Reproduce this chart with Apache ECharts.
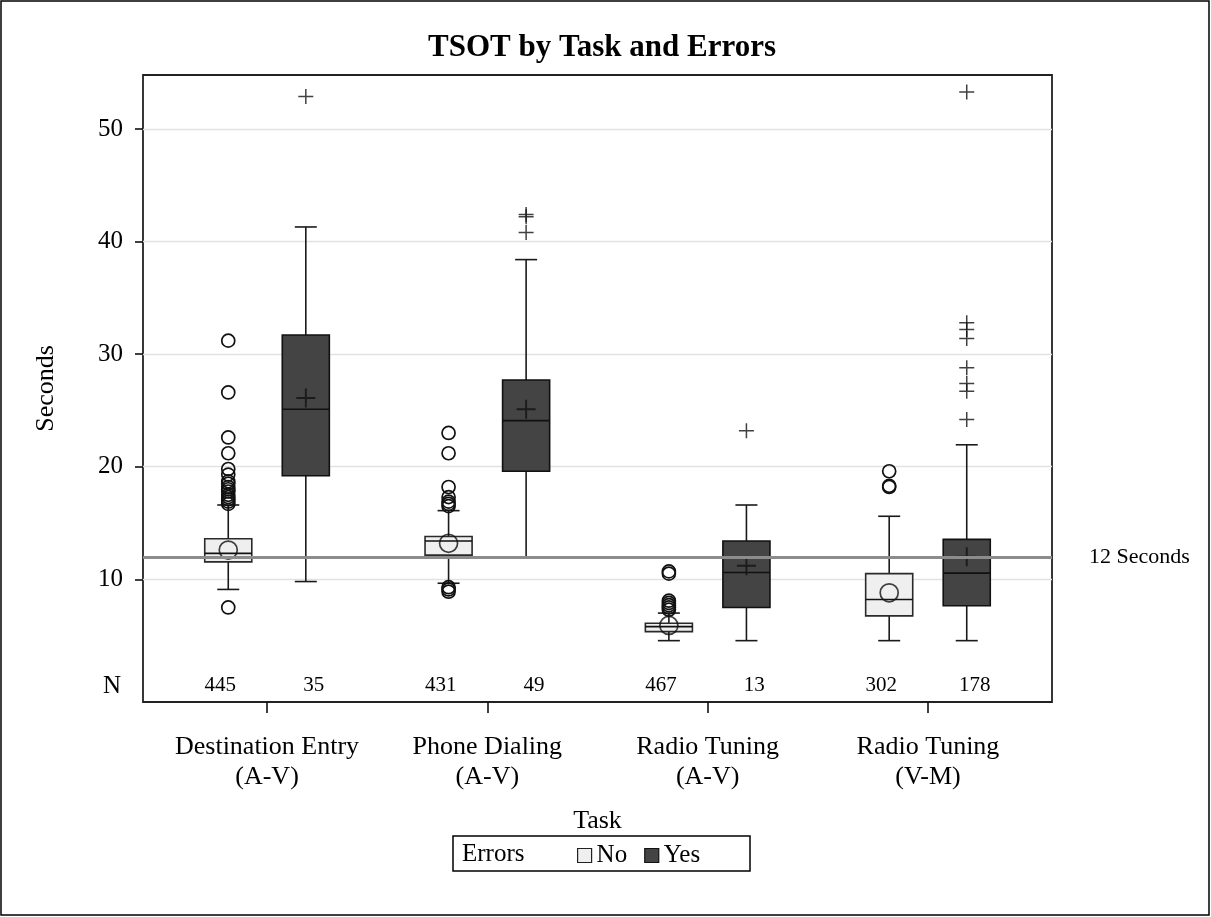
<!DOCTYPE html>
<html>
<head>
<meta charset="utf-8">
<title>TSOT by Task and Errors</title>
<script src="https://cdn.jsdelivr.net/npm/echarts@6/dist/echarts.min.js"></script>
<style>
  html, body { margin: 0; padding: 0; background: #fff; }
  #chart { width: 1211px; height: 917px; }
</style>
</head>
<body>
<div id="chart"></div>
<script>
// Task categories (x axis) and y-axis tick values
const tasks = ['Destination Entry\n(A-V)', 'Phone Dialing\n(A-V)', 'Radio Tuning\n(A-V)', 'Radio Tuning\n(V-M)'];
const yTicks = [10, 20, 30, 40, 50];

// Five-number summaries per task: [lower whisker, Q1, median, Q3, upper whisker]
const noBox = [
  [9.1, 11.55, 12.3, 13.6, 16.6],
  [9.65, 12.15, 13.4, 13.8, 16.1],
  [4.55, 5.35, 5.8, 6.1, 7.0],
  [4.55, 6.75, 8.2, 10.5, 15.6]
];
const yesBox = [
  [9.8, 19.2, 25.1, 31.7, 41.3],
  [12.0, 19.6, 24.1, 27.7, 38.4],
  [4.55, 7.5, 10.6, 13.4, 16.6],
  [4.55, 7.65, 10.55, 13.55, 21.95]
];

// Means
const noMean = [12.6, 13.2, 5.9, 8.8];
const yesMean = [26.1, 25.1, 11.2, 12.0];

// Outliers
const noOutliers = [
  [7.5, 16.7, 16.9, 17.1, 17.3, 17.5, 17.8, 18.0, 18.2, 18.5, 18.7, 19.3, 19.8, 21.2, 22.6, 26.6, 31.2],
  [8.9, 9.1, 9.3, 16.5, 16.7, 16.9, 17.3, 18.2, 21.2, 23.0],
  [7.3, 7.5, 7.7, 7.9, 8.1, 10.5, 10.7],
  [18.2, 18.3, 19.6]
];
const yesOutliers = [
  [52.9],
  [40.8, 42.2, 42.4],
  [23.2],
  [24.2, 26.7, 27.4, 28.8, 31.4, 32.2, 32.8, 53.3]
];

// Sample sizes
const noCounts = [445, 431, 467, 302];
const yesCounts = [35, 49, 13, 178];

// Reference threshold
const refLine = 12;

// ---- layout / style ----
const FONT = 'Liberation Serif';
const GROUP_OFFSET = 0.176;   // box offset from category centre (axis units)
const BOX_WIDTH = 0.2136;     // box width (axis units)
const COUNT_OFFSET = 0.212;   // N-row label offset
const CAP_PX = 22;
const X_MIN = -0.563, X_MAX = 3.563;
const Y_MIN = -0.9, Y_MAX = 54.8;

const PLUS = 'path://M9,0h2v9h9v2h-9v9h-2v-9h-9v-2h9z';

function boxRenderer(offset, fill, stroke) {
  return function (params, api) {
    const x = api.value(0) + offset;
    const lo = api.coord([x, api.value(1)]);
    const q1 = api.coord([x, api.value(2)]);
    const md = api.coord([x, api.value(3)]);
    const q3 = api.coord([x, api.value(4)]);
    const hi = api.coord([x, api.value(5)]);
    const w = api.size([BOX_WIDTH, 0])[0];
    const cx = lo[0];
    const line = { stroke: '#1a1a1a', lineWidth: 1.6 };
    return {
      type: 'group',
      children: [
        { type: 'line', shape: { x1: cx, y1: q1[1], x2: cx, y2: lo[1] }, style: line },
        { type: 'line', shape: { x1: cx, y1: q3[1], x2: cx, y2: hi[1] }, style: line },
        { type: 'line', shape: { x1: cx - CAP_PX / 2, y1: lo[1], x2: cx + CAP_PX / 2, y2: lo[1] }, style: line },
        { type: 'line', shape: { x1: cx - CAP_PX / 2, y1: hi[1], x2: cx + CAP_PX / 2, y2: hi[1] }, style: line },
        { type: 'rect', shape: { x: cx - w / 2, y: q3[1], width: w, height: q1[1] - q3[1] },
          style: { fill: fill, stroke: stroke, lineWidth: 1.6 } },
        { type: 'line', shape: { x1: cx - w / 2, y1: md[1], x2: cx + w / 2, y2: md[1] },
          style: { stroke: '#111', lineWidth: 1.6 } }
      ]
    };
  };
}

function countRenderer(params, api) {
  const p = api.coord([api.value(0), Y_MIN]);
  return {
    type: 'text',
    x: p[0], y: p[1] - 17,
    style: { text: String(api.value(1)), textAlign: 'center', textVerticalAlign: 'middle',
             fontSize: 21, fontFamily: FONT, fill: '#000' }
  };
}

const boxDataNo = noBox.map((s, i) => [i].concat(s));
const boxDataYes = yesBox.map((s, i) => [i].concat(s));
const outNo = [], outYes = [];
noOutliers.forEach((arr, i) => arr.forEach(v => outNo.push([i - GROUP_OFFSET, v])));
yesOutliers.forEach((arr, i) => arr.forEach(v => outYes.push([i + GROUP_OFFSET, v])));
const meanNo = noMean.map((v, i) => [i - GROUP_OFFSET, v]);
const meanYes = yesMean.map((v, i) => [i + GROUP_OFFSET, v]);
const countData = [];
noCounts.forEach((n, i) => countData.push([i - COUNT_OFFSET, n]));
yesCounts.forEach((n, i) => countData.push([i + COUNT_OFFSET, n]));

const chart = echarts.init(document.getElementById('chart'), null, { renderer: 'canvas' });

chart.setOption({
  animation: false,
  backgroundColor: '#fff',
  title: {
    text: 'TSOT by Task and Errors',
    left: 597, top: 27, textAlign: 'center',
    textStyle: { fontFamily: FONT, fontWeight: 'bold', fontSize: 31, color: '#000' }
  },
  grid: {
    left: 143, right: 159, top: 75, bottom: 215,
    show: true, borderColor: '#222', borderWidth: 1.8, backgroundColor: 'transparent'
  },
  legend: {
    left: 577, top: 843, padding: 0,
    itemWidth: 14, itemHeight: 14, itemGap: 17,
    textStyle: { fontFamily: FONT, fontSize: 25, color: '#000' },
    selectedMode: false,
    data: [
      { name: 'No', icon: 'rect', itemStyle: { color: '#efefef', borderColor: '#222', borderWidth: 1.2 } },
      { name: 'Yes', icon: 'rect', itemStyle: { color: '#444444', borderColor: '#111', borderWidth: 1.2 } }
    ]
  },
  xAxis: {
    type: 'value', min: X_MIN, max: X_MAX,
    axisLine: { show: false, onZero: false },
    splitLine: { show: false },
    axisTick: { show: true, customValues: [0, 1, 2, 3], length: 11, lineStyle: { color: '#111', width: 1.6 } },
    axisLabel: {
      customValues: [0, 1, 2, 3],
      formatter: v => tasks[Math.round(v)],
      fontFamily: FONT, fontSize: 26, color: '#000', lineHeight: 30, margin: 30
    },
    name: 'Task', nameLocation: 'middle', nameGap: 106,
    nameTextStyle: { fontFamily: FONT, fontSize: 26, color: '#000' }
  },
  yAxis: {
    type: 'value', min: Y_MIN, max: Y_MAX,
    axisLine: { show: false, onZero: false },
    splitLine: { show: false },
    axisTick: { show: true, customValues: yTicks, length: 8, lineStyle: { color: '#111', width: 1.6 } },
    axisLabel: { customValues: yTicks, fontFamily: FONT, fontSize: 25, color: '#000', margin: 20 },
    name: 'Seconds', nameLocation: 'middle', nameGap: 84, nameRotate: 90,
    nameTextStyle: { fontFamily: FONT, fontSize: 26, color: '#000' }
  },
  series: [
    {
      // horizontal grid lines, kept beneath the boxes
      type: 'scatter', data: [], z: 0, silent: true,
      markLine: {
        z: 0, silent: true, symbol: ['none', 'none'], label: { show: false },
        lineStyle: { color: '#e2e2e2', width: 1.3, type: 'solid' },
        data: yTicks.map(v => ({ yAxis: v }))
      }
    },
    {
      name: 'No', type: 'custom', z: 2,
      itemStyle: { color: '#efefef' },
      renderItem: boxRenderer(-GROUP_OFFSET, '#efefef', '#2a2a2a'),
      data: boxDataNo
    },
    {
      name: 'Yes', type: 'custom', z: 2,
      itemStyle: { color: '#444444' },
      renderItem: boxRenderer(GROUP_OFFSET, '#444444', '#111'),
      data: boxDataYes
    },
    {
      type: 'scatter', z: 3, silent: true,
      symbol: 'circle', symbolSize: 13,
      itemStyle: { color: 'rgba(0,0,0,0)', borderColor: '#111', borderWidth: 1.7, opacity: 1 },
      data: outNo
    },
    {
      type: 'scatter', z: 3, silent: true,
      symbol: PLUS, symbolSize: 15,
      itemStyle: { color: '#111' },
      data: outYes
    },
    {
      type: 'scatter', z: 4, silent: true,
      symbol: 'circle', symbolSize: 18,
      itemStyle: { color: 'rgba(0,0,0,0)', borderColor: '#111', borderWidth: 1.7 },
      data: meanNo
    },
    {
      type: 'scatter', z: 4, silent: true,
      symbol: PLUS, symbolSize: 19,
      itemStyle: { color: '#111' },
      data: meanYes
    },
    {
      // reference threshold, drawn over the boxes
      type: 'scatter', data: [], z: 6, silent: true,
      markLine: {
        z: 8, silent: true, symbol: ['none', 'none'],
        lineStyle: { color: '#8c8c8c', width: 3, type: 'solid' },
        label: { show: true, position: 'end', distance: 37, formatter: '12 Seconds',
                 fontFamily: FONT, fontSize: 22, color: '#000' },
        data: [{ yAxis: refLine }]
      }
    },
    {
      // N row
      type: 'custom', z: 5, silent: true,
      renderItem: countRenderer,
      data: countData
    }
  ],
  graphic: [
    { type: 'rect', shape: { x: 1, y: 1, width: 1208, height: 914 },
      style: { fill: 'none', stroke: '#000', lineWidth: 1.5 }, silent: true },
    { type: 'text', x: 121, y: 686,
      style: { text: 'N', fontFamily: FONT, fontSize: 25, fill: '#000', textAlign: 'right', textVerticalAlign: 'middle' } },
    { type: 'rect', shape: { x: 453, y: 836, width: 297, height: 35 },
      style: { fill: 'none', stroke: '#000', lineWidth: 1.5 }, silent: true },
    { type: 'text', x: 462, y: 854,
      style: { text: 'Errors', fontFamily: FONT, fontSize: 25, fill: '#000', textAlign: 'left', textVerticalAlign: 'middle' } }
  ]
});
</script>
</body>
</html>
